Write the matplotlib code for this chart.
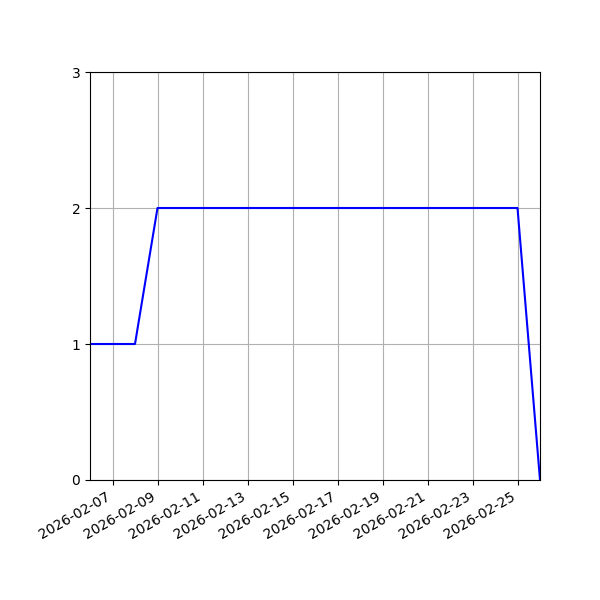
import datetime as dt
import matplotlib
matplotlib.use('Agg')
import matplotlib.pyplot as plt
import matplotlib.dates as mdates

# daily values
start = dt.date(2026, 2, 6)
days = [start + dt.timedelta(days=i) for i in range(21)]
values = [1, 1, 1] + [2] * 17 + [0]

fig, ax = plt.subplots(figsize=(6, 6), dpi=100)
ax.plot(days, values, color='blue')

ax.set_xlim(days[0], days[-1])
ax.set_ylim(0, 3)
ax.set_yticks([0, 1, 2, 3])
ax.xaxis.set_major_locator(mdates.DayLocator(bymonthday=list(range(1, 32, 2))))
ax.xaxis.set_major_formatter(mdates.DateFormatter('%Y-%m-%d'))
ax.grid(True)

fig.autofmt_xdate()
fig.subplots_adjust(left=0.15, right=0.9, top=0.88, bottom=0.2)
fig.savefig('out.png')
